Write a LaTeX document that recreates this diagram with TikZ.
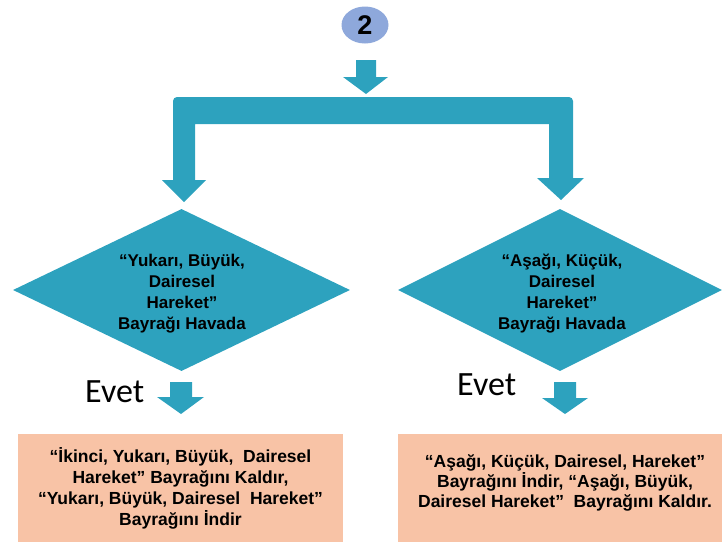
\documentclass[tikz,border=0pt]{standalone}
\usepackage{fontspec}
\setmainfont{Liberation Sans}
\newfontfamily\evetfont{Carlito}
\usetikzlibrary{shapes.geometric}
\definecolor{tealA}{RGB}{45,162,190}
\definecolor{circA}{RGB}{142,168,219}
\definecolor{peachA}{RGB}{248,195,166}
\begin{document}
\begin{tikzpicture}[x=1pt,y=-1pt,
 blk/.style={fill=tealA,draw=none},
 dia/.style={shape=diamond, fill=tealA, draw=none, inner sep=0pt, aspect=2.08},
 diatext/.style={align=center, inner sep=0pt, font=\bfseries\fontsize{17}{21}\selectfont},
 boxA/.style={fill=peachA, draw=none, inner sep=0pt, align=center, font=\bfseries\fontsize{17.5}{21}\selectfont},
 evet/.style={anchor=base west, font=\evetfont\fontsize{34}{38}\selectfont, inner sep=0pt}]
\useasboundingbox (0,0) rectangle (723,544);
% circle 2
\node[ellipse, fill=circA, minimum width=47pt, minimum height=37pt, inner sep=0pt, font=\bfseries\fontsize{27}{27}\selectfont] (n2) at (365,25) {2};
% top arrow
\fill[blk] (356,60) -- (376,60) -- (376,77) -- (388,77) -- (366,94) -- (343,77) -- (356,77) -- cycle;
% bracket
\fill[blk] (162,180) -- (173,180) [rounded corners=4pt] -- (173,97) -- (573,97) [sharp corners] -- (573,178) -- (584,178) -- (561,200) -- (537,178) -- (549,178) -- (549,124) -- (195,124) -- (195,180) -- (206,180) -- (184,202) -- cycle;
% diamonds
\node[dia, minimum width=337pt, minimum height=162pt] (d1) at (181.5,290) {};
\node[diatext] (d1t) at (182,294) {``Yukarı, Büyük,\\Dairesel\\Hareket''\\Bayrağı Havada};
\node[dia, minimum width=324pt, minimum height=162pt] (d2) at (560,290) {};
\node[diatext] (d2t) at (562,294) {``Aşağı, Küçük,\\Dairesel\\Hareket''\\Bayrağı Havada};
% Evet labels
\node[evet] (e1) at (85,402) {Evet};
\node[evet] (e2) at (457,395) {Evet};
% small arrows
\fill[blk] (170,382) -- (192,382) -- (192,397) -- (204,397) -- (181,414) -- (157,397) -- (170,397) -- cycle;
\fill[blk] (554,382) -- (576,382) -- (576,398) -- (588,398) -- (565,414) -- (542,398) -- (554,398) -- cycle;
% boxes
\node[boxA, minimum width=325pt, minimum height=108pt] (b1) at (180.5,488) {``İkinci, Yukarı, Büyük,~ Dairesel\\Hareket'' Bayrağını Kaldır,\\``Yukarı, Büyük, Dairesel~ Hareket''\\Bayrağını İndir};
\node[boxA, minimum width=324pt, minimum height=108pt] (b2) at (560,488) {};
\node[font=\bfseries\fontsize{17.5}{20}\selectfont, align=center, inner sep=0pt] (t2) at (565,483) {``Aşağı, Küçük, Dairesel, Hareket''\\Bayrağını İndir, ``Aşağı, Büyük,\\Dairesel Hareket''~ Bayrağını Kaldır.};
\end{tikzpicture}
\end{document}
